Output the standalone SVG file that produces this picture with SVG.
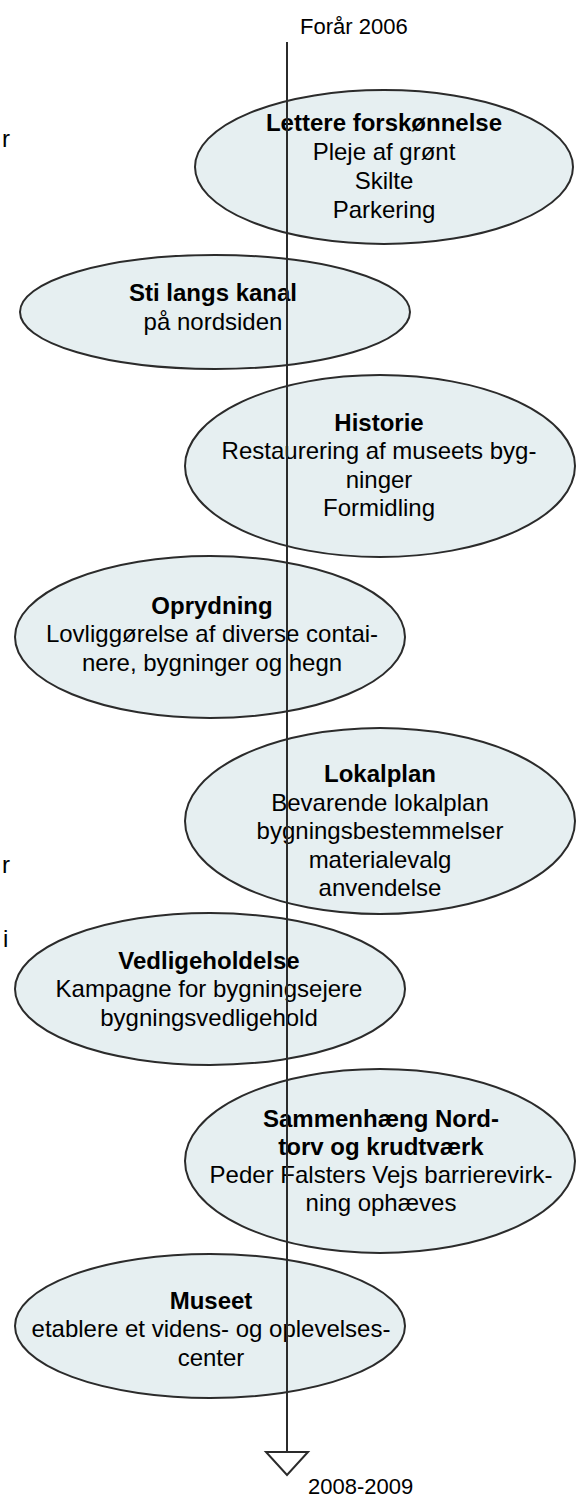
<svg xmlns="http://www.w3.org/2000/svg" width="581" height="1499" viewBox="0 0 581 1499">
<style>
.n ellipse{fill:#e6eff1;stroke:#2b2b2b;stroke-width:2}
text{font-family:"Liberation Sans",Arial,sans-serif;font-size:24px;fill:#000}
.n text{text-anchor:middle}
.b{font-weight:bold}
.t{font-size:22px}
.ln{stroke:#2b2b2b;stroke-width:2;fill:none}
</style>
<rect width="581" height="1499" fill="#fff"/>
<g id="labels">
<text class="t" x="300" y="34">Forår 2006</text>
<text class="t" x="308" y="1494">2008-2009</text>
<text x="2" y="147">r</text>
<text x="2" y="873">r</text>
<text x="3" y="947">i</text>
</g>
<g id="n1" class="n">
<ellipse cx="384" cy="167" rx="189" ry="77"/>
<text x="384" y="131" class="b">Lettere forskønnelse</text>
<text x="384" y="160">Pleje af grønt</text>
<text x="384" y="189">Skilte</text>
<text x="384" y="218">Parkering</text>
</g>
<g id="n2" class="n">
<ellipse cx="215" cy="312" rx="195" ry="57"/>
<text x="213" y="301" class="b">Sti langs kanal</text>
<text x="213" y="330">på nordsiden</text>
</g>
<g id="n3" class="n">
<ellipse cx="380" cy="466" rx="195" ry="91"/>
<text x="379" y="431" class="b">Historie</text>
<text x="379" y="459">Restaurering af museets byg-</text>
<text x="379" y="488">ninger</text>
<text x="379" y="516">Formidling</text>
</g>
<g id="n4" class="n">
<ellipse cx="210" cy="637" rx="195" ry="81"/>
<text x="212" y="614" class="b">Oprydning</text>
<text x="212" y="642">Lovliggørelse af diverse contai-</text>
<text x="212" y="671">nere, bygninger og hegn</text>
</g>
<g id="n5" class="n">
<ellipse cx="380" cy="821" rx="195" ry="93"/>
<text x="380" y="782" class="b">Lokalplan</text>
<text x="380" y="811">Bevarende lokalplan</text>
<text x="380" y="839">bygningsbestemmelser</text>
<text x="380" y="868">materialevalg</text>
<text x="380" y="896">anvendelse</text>
</g>
<g id="n6" class="n">
<ellipse cx="210" cy="989" rx="195" ry="76"/>
<text x="209" y="969" class="b">Vedligeholdelse</text>
<text x="209" y="997">Kampagne for bygningsejere</text>
<text x="209" y="1026">bygningsvedligehold</text>
</g>
<g id="n7" class="n">
<ellipse cx="380" cy="1161" rx="195" ry="92"/>
<text x="381" y="1127" class="b">Sammenhæng Nord-</text>
<text x="381" y="1155" class="b">torv og krudtværk</text>
<text x="381" y="1183">Peder Falsters Vejs barrierevirk-</text>
<text x="381" y="1211">ning ophæves</text>
</g>
<g id="n8" class="n">
<ellipse cx="210" cy="1326" rx="195" ry="72"/>
<text x="211" y="1309" class="b">Museet</text>
<text x="211" y="1337">etablere et videns- og oplevelses-</text>
<text x="211" y="1366">center</text>
</g>
<g id="connectors">
<line class="ln" x1="287" y1="42" x2="287" y2="1452"/>
<polygon class="ln" points="266,1452 308,1452 287,1475"/>
</g>
</svg>
